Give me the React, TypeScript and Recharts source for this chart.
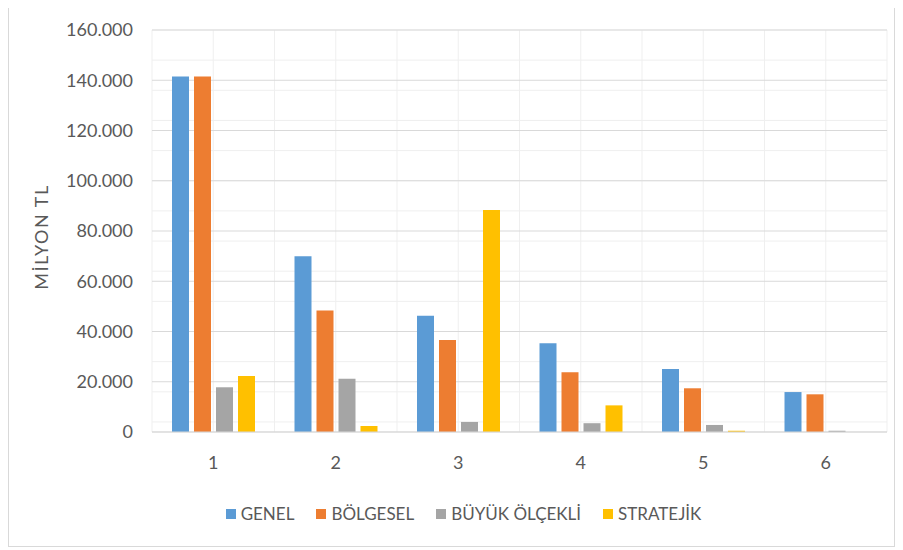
import React from 'react';
import { BarChart, Bar, XAxis, YAxis, CartesianGrid, Legend } from 'recharts';

const categories = ['1', '2', '3', '4', '5', '6'];
const genel = [141500, 70000, 46300, 35300, 25100, 15900];
const bolgesel = [141500, 48400, 36600, 23800, 17400, 15000];
const buyukOlcekli = [17800, 21200, 4000, 3500, 2800, 500];
const stratejik = [22300, 2400, 88400, 10600, 500, 0];
const yTicks = [0, 20000, 40000, 60000, 80000, 100000, 120000, 140000, 160000];
const minorStep = 4000;

const seriesNames = ['GENEL', 'BÖLGESEL', 'BÜYÜK ÖLÇEKLİ', 'STRATEJİK'];
const seriesKeys = ['genel', 'bolgesel', 'buyuk', 'stratejik'];
const colors = ['#5B9BD5', '#ED7D31', '#A5A5A5', '#FFC000'];

const data = categories.map((c, i) => ({
  name: c,
  genel: genel[i],
  bolgesel: bolgesel[i],
  buyuk: buyukOlcekli[i],
  stratejik: stratejik[i],
}));

const minorValues: number[] = [];
for (let v = 0; v <= 160000; v += minorStep) minorValues.push(v);

const fmt = (v: number) => (v === 0 ? '0' : v.toLocaleString('de-DE'));

const FONT = 'Lato, "Liberation Sans", Arial, sans-serif';

const renderLegend = (props: any) => {
  const payload = [...(props.payload || [])].sort(
    (a: any, b: any) => seriesNames.indexOf(a.value) - seriesNames.indexOf(b.value)
  );
  return (
    <div style={{ display: 'flex', justifyContent: 'center', alignItems: 'center', fontFamily: FONT, fontSize: 17, color: '#595959' }}>
      {payload.map((p: any, i: number) => (
        <div key={i} style={{ display: 'flex', alignItems: 'center', marginRight: i < payload.length - 1 ? 22 : 0 }}>
          <span style={{ display: 'inline-block', width: 10, height: 10, background: p.color, marginRight: 5 }} />
          <span>{p.value}</span>
        </div>
      ))}
    </div>
  );
};

export default function App() {
  return (
    <div style={{ position: 'relative', top: -6, width: 885, height: 543, border: '1px solid #D9D9D9', background: '#fff' }}>
      <BarChart
        width={885}
        height={543}
        data={data}
        margin={{ top: 27, right: 7, left: 0, bottom: 64 }}
        barSize={17}
        barGap={5}
      >
        <CartesianGrid
          stroke="#EFEFEF"
          strokeWidth={1}
          horizontalValues={minorValues}
          verticalCoordinatesGenerator={({ offset }: any) => {
            const pts: number[] = [];
            for (let i = 0; i <= categories.length * 2; i++) pts.push(offset.left + (i * offset.width) / (categories.length * 2));
            return pts;
          }}
        />
        <CartesianGrid stroke="#D9D9D9" strokeWidth={1} vertical={false} />
        <XAxis
          dataKey="name"
          axisLine={{ stroke: '#D9D9D9' }}
          tickLine={false}
          tickSize={0}
          tickMargin={24}
          height={50}
          tick={{ fill: '#595959', fontSize: 18, fontFamily: FONT }}
        />
        <YAxis
          width={143}
          domain={[0, 160000]}
          ticks={yTicks}
          tickFormatter={fmt}
          axisLine={false}
          tickLine={false}
          tickSize={0}
          tickMargin={19}
          tick={{ fill: '#595959', fontSize: 18, fontFamily: FONT }}
          label={{
            value: 'MİLYON TL',
            angle: -90,
            position: 'insideLeft',
            offset: 33,
            dy: 6,
            fontSize: 18,
            fill: '#595959',
            fontFamily: FONT,
            style: { textAnchor: 'middle', fill: '#595959', fontSize: 18, fontFamily: FONT, letterSpacing: 1.5 },
          }}
        />
        <Legend
          verticalAlign="middle"
          align="center"
          layout="horizontal"
          content={renderLegend}
          wrapperStyle={{ top: 500, left: 12, width: 885, height: 24 }}
        />
        {seriesKeys.map((k, i) => (
          <Bar key={k} dataKey={k} name={seriesNames[i]} fill={colors[i]} isAnimationActive={false} />
        ))}
      </BarChart>
    </div>
  );
}
